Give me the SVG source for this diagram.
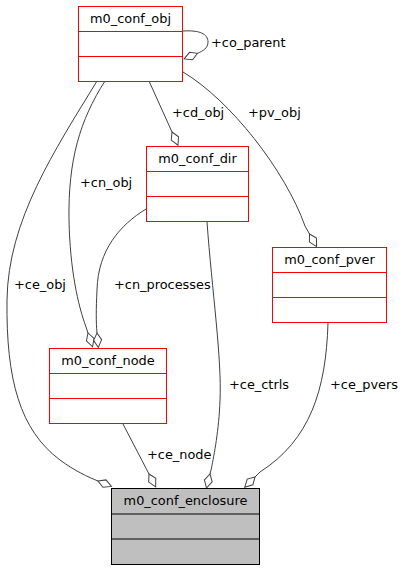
<svg xmlns="http://www.w3.org/2000/svg" width="404" height="571" viewBox="0 0 404 571">
<defs>
<style>
text{font-family:"DejaVu Sans","Liberation Sans",sans-serif;font-size:12.9px;fill:#000}
.t{text-anchor:middle}
.box{fill:#fff;stroke:#ff0000;stroke-width:1}
.boxg{fill:#bfbfbf;stroke:#000;stroke-width:1}
.e{fill:none;stroke:#404040;stroke-width:1}
</style>
<marker id="dia" markerUnits="userSpaceOnUse" markerWidth="16" markerHeight="12" viewBox="0 -6 16 12" refX="0" refY="0" orient="auto" overflow="visible">
<polygon points="0,0 7,-4 14.5,0 7,4" fill="#fff" stroke="#404040" stroke-width="1"/>
</marker>
</defs>
<g id="edges">
<path class="e" marker-end="url(#dia)" d="M183,31 C200,30 208,34 208,42 C208,48 203,51 197.5,53.3"/>
<path class="e" marker-end="url(#dia)" d="M149,81 L172,132"/>
<path class="e" marker-end="url(#dia)" d="M183,72 C230,100 285,170 305,226 L309.5,234"/>
<path class="e" marker-end="url(#dia)" d="M105,81 C80,120 68,160 69,220 C70,270 78,305 86,327 L88,333"/>
<path class="e" marker-end="url(#dia)" d="M97,81 C55,150 8,220 7,300 C6,380 20,430 60,460 C75,471 88,477 98,481"/>
<path class="e" marker-end="url(#dia)" d="M146,209 C120,225 98,250 97,290 C96,310 96,322 97,333"/>
<path class="e" marker-end="url(#dia)" d="M207,222 C212,290 222,360 220,400 C219,430 214,455 211.5,468 L210,474"/>
<path class="e" marker-end="url(#dia)" d="M123,424 L149,474"/>
<path class="e" marker-end="url(#dia)" d="M328,323 C326,390 310,440 260,472 L255,477"/>
<text x="211" y="47">+co_parent</text>
<text x="172" y="117">+cd_obj</text>
<text x="248" y="117">+pv_obj</text>
<text x="80" y="187">+cn_obj</text>
<text x="14" y="289">+ce_obj</text>
<text x="114" y="289">+cn_processes</text>
<text x="229" y="389">+ce_ctrls</text>
<text x="330" y="389">+ce_pvers</text>
<text x="147" y="459">+ce_node</text>
</g>
<g id="m0_conf_obj">
<rect class="box" x="78.5" y="6.5" width="104" height="75"/>
<path class="box" d="M78.5,31.5H182.5M78.5,56.5H182.5"/>
<text class="t" x="130.5" y="23">m0_conf_obj</text>
</g>
<g id="m0_conf_dir">
<rect class="box" x="146.5" y="146.5" width="102" height="75"/>
<path class="box" d="M146.5,171.5H248.5M146.5,196.5H248.5"/>
<text class="t" x="197.5" y="163">m0_conf_dir</text>
</g>
<g id="m0_conf_pver">
<rect class="box" x="272.5" y="247.5" width="114" height="75"/>
<path class="box" d="M272.5,272.5H386.5M272.5,297.5H386.5"/>
<text class="t" x="329.5" y="264">m0_conf_pver</text>
</g>
<g id="m0_conf_node">
<rect class="box" x="49.5" y="348.5" width="117" height="75"/>
<path class="box" d="M49.5,373.5H166.5M49.5,398.5H166.5"/>
<text class="t" x="108" y="365">m0_conf_node</text>
</g>
<g id="m0_conf_enclosure">
<rect class="boxg" x="111.5" y="488.5" width="148" height="76"/>
<path class="boxg" d="M111.5,514H259.5M111.5,539H259.5"/>
<text class="t" x="185.5" y="505">m0_conf_enclosure</text>
</g>
</svg>
